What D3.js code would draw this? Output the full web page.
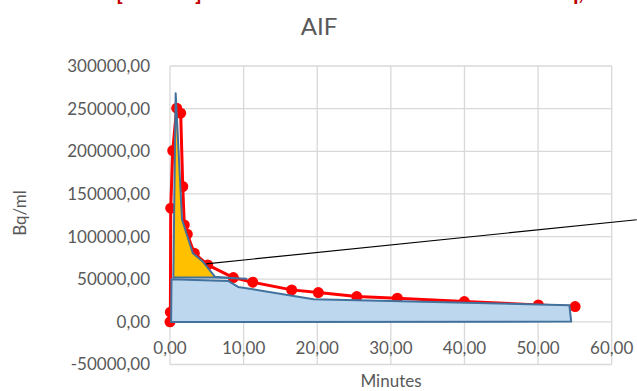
<!DOCTYPE html>
<html>
<head>
<meta charset="utf-8">
<script src="https://cdn.jsdelivr.net/npm/d3@7"></script>
<style>
  body { margin: 0; background: #fff; }
  svg { display: block; font-family: Lato, 'Open Sans', sans-serif; }
</style>
</head>
<body>
<div id="chart"></div>
<script>
// measured AIF samples (minutes, Bq/ml)
const minutes = [0, 0.05, 0.1, 0.37, 0.91, 1.45, 1.73, 1.94, 2.35, 3.3, 5.12, 8.6, 11.24, 16.53, 20.15, 25.37, 30.88, 39.98, 50.04, 55.03]
const bqml = [0, 11400, 133300, 200900, 250600, 244700, 158700, 113700, 102800, 80500, 66800, 51900, 46500, 37500, 34400, 29700, 27800, 23800, 19900, 17900]

// hand-drawn shapes over the curve
const peakShapeX = [0.45, 0.77, 1.63, 3.1, 4.45, 6.1, 10.4, 6.1, 0.45]
const peakShapeY = [52000, 268000, 120000, 80500, 70700, 53000, 50400, 52000, 52000]
const tailShapeX = [0.15, 0.2, 7.9, 9.25, 19.5, 54.25, 54.5, 0.15]
const tailShapeY = [-300, 50000, 48000, 41000, 26600, 19600, 300, -300]
const calloutX = [4.9, 63.4]
const calloutY = [68000, 119700]

const xTicks = [0, 10, 20, 30, 40, 50, 60]
const yTicks = [-50000, 0, 50000, 100000, 150000, 200000, 250000, 300000]

const width = 637
const height = 391
const grey = '#595959'

const x = d3.scaleLinear().domain([0, 60]).range([170, 611.7])
const y = d3.scaleLinear().domain([-50000, 300000]).range([364.5, 66])

const fmt = d3.formatLocale({ decimal: ',', thousands: '', grouping: [3], currency: ['', ''], minus: '-' }).format('.2f')

const svg = d3.select('#chart').append('svg')
  .attr('width', width)
  .attr('height', height)

// cut-off red heading above the chart (only its descenders show)
svg.append('g')
  .attr('fill', '#C00000')
  .attr('font-weight', 'bold')
  .attr('font-size', 22)
  .selectAll('text')
  .data([['[', 116], [']', 195], ['q,', 566]])
  .join('text')
  .attr('x', d => d[1])
  .attr('y', 0)
  .text(d => d[0])

svg.append('text')
  .attr('x', 319)
  .attr('y', 35)
  .attr('text-anchor', 'middle')
  .attr('font-size', 24)
  .attr('fill', grey)
  .text('AIF')

// gridlines
svg.append('g')
  .selectAll('line')
  .data(yTicks)
  .join('line')
  .attr('x1', x(0)).attr('x2', x(60))
  .attr('y1', d => y(d)).attr('y2', d => y(d))
  .attr('stroke', '#D9D9D9')
  .attr('stroke-width', 1.3)

svg.append('g')
  .selectAll('line')
  .data(xTicks)
  .join('line')
  .attr('x1', d => x(d)).attr('x2', d => x(d))
  .attr('y1', y(300000)).attr('y2', y(-50000))
  .attr('stroke', '#D9D9D9')
  .attr('stroke-width', 1.3)

// tick labels
svg.append('g')
  .selectAll('text')
  .data(yTicks)
  .join('text')
  .attr('x', 150)
  .attr('y', d => y(d))
  .attr('dy', '0.35em')
  .attr('text-anchor', 'end')
  .attr('font-size', 17)
  .attr('fill', grey)
  .text(d => fmt(d))

svg.append('g')
  .selectAll('text')
  .data(xTicks)
  .join('text')
  .attr('x', d => x(d))
  .attr('y', 354)
  .attr('text-anchor', 'middle')
  .attr('font-size', 17)
  .attr('fill', grey)
  .text(d => fmt(d))

svg.append('text')
  .attr('x', 391)
  .attr('y', 387)
  .attr('text-anchor', 'middle')
  .attr('font-size', 17)
  .attr('fill', grey)
  .text('Minutes')

svg.append('text')
  .attr('transform', 'translate(26,213) rotate(-90)')
  .attr('text-anchor', 'middle')
  .attr('font-size', 17)
  .attr('fill', grey)
  .text('Bq/ml')

// data series
const pts = minutes.map((m, i) => ({ m: m, v: bqml[i] }))

svg.append('path')
  .datum(pts)
  .attr('fill', 'none')
  .attr('stroke', '#FF0000')
  .attr('stroke-width', 3)
  .attr('stroke-linejoin', 'round')
  .attr('d', d3.line().x(d => x(d.m)).y(d => y(d.v)))

svg.append('g')
  .selectAll('circle')
  .data(pts)
  .join('circle')
  .attr('cx', d => x(d.m))
  .attr('cy', d => y(d.v))
  .attr('r', 5.5)
  .attr('fill', '#FF0000')

// overlaid shapes
const shape = d3.line().x(d => x(d[0])).y(d => y(d[1]))

svg.append('path')
  .datum(tailShapeX.map((m, i) => [m, tailShapeY[i]]))
  .attr('fill', '#BDD7EE')
  .attr('stroke', '#41719C')
  .attr('stroke-width', 2)
  .attr('stroke-linejoin', 'round')
  .attr('d', d => shape(d) + 'Z')

svg.append('path')
  .datum(peakShapeX.map((m, i) => [m, peakShapeY[i]]))
  .attr('fill', '#FFC000')
  .attr('stroke', '#41719C')
  .attr('stroke-width', 2)
  .attr('stroke-linejoin', 'round')
  .attr('d', d => shape(d) + 'Z')

svg.append('path')
  .datum(calloutX.map((m, i) => [m, calloutY[i]]))
  .attr('fill', 'none')
  .attr('stroke', '#000')
  .attr('stroke-width', 1.2)
  .attr('d', shape)
</script>
</body>
</html>
